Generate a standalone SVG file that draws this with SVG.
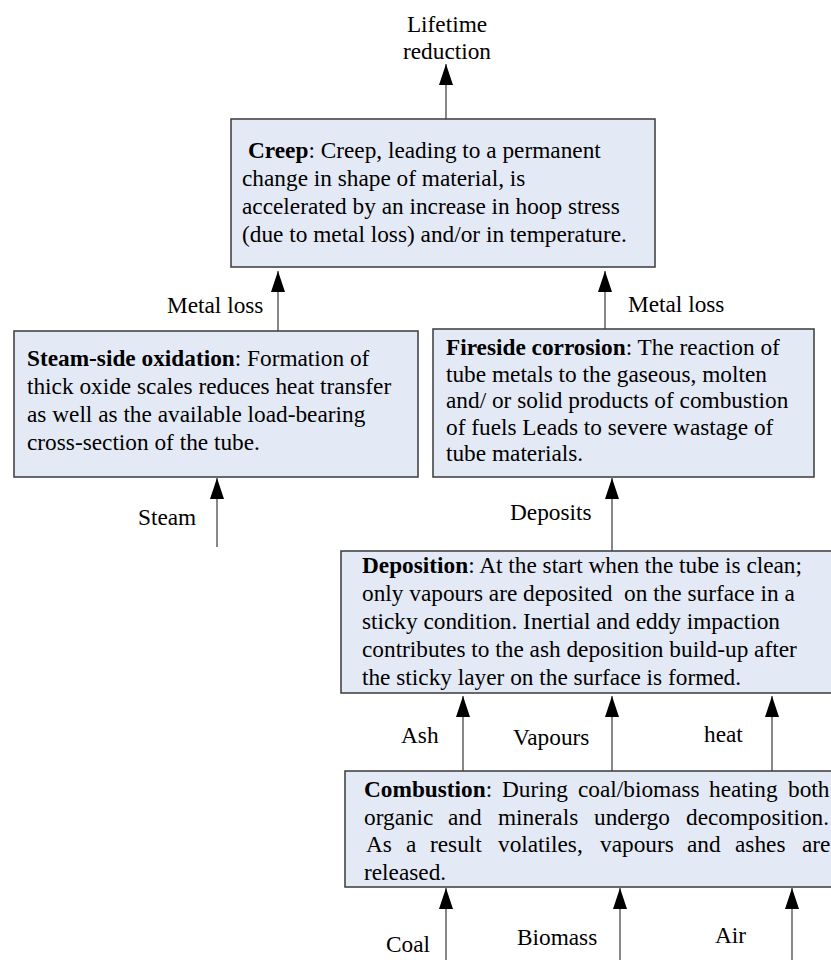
<svg xmlns="http://www.w3.org/2000/svg" width="831" height="960" viewBox="0 0 831 960">
<defs>
<style>
text{font-family:"Liberation Serif","Times New Roman","DejaVu Serif",serif;font-size:23.3px;fill:#000}
.b{font-weight:bold}
.box{fill:#e4eaf5;stroke:#3a3a3a;stroke-width:1.5}
.ln{stroke:#555;stroke-width:1.4;fill:none}
</style>
<marker id="ah" markerUnits="userSpaceOnUse" markerWidth="22" markerHeight="14" viewBox="0 0 22 14" refX="21" refY="7" orient="auto">
<path d="M21 7 L0 0 L0 14 Z" fill="#000"/>
</marker>
</defs>
<rect width="831" height="960" fill="#fff"/>

<g id="connectors">
<line class="ln" x1="446" y1="119" x2="446" y2="64" marker-end="url(#ah)"/>
<line class="ln" x1="278" y1="331" x2="278" y2="271" marker-end="url(#ah)"/>
<line class="ln" x1="605" y1="329" x2="605" y2="271" marker-end="url(#ah)"/>
<line class="ln" x1="217" y1="547" x2="217" y2="478" marker-end="url(#ah)"/>
<line class="ln" x1="612" y1="551" x2="612" y2="478" marker-end="url(#ah)"/>
<line class="ln" x1="463" y1="771" x2="463" y2="696" marker-end="url(#ah)"/>
<line class="ln" x1="612" y1="771" x2="612" y2="696" marker-end="url(#ah)"/>
<line class="ln" x1="772" y1="771" x2="772" y2="696" marker-end="url(#ah)"/>
<line class="ln" x1="446" y1="960" x2="446" y2="888" marker-end="url(#ah)"/>
<line class="ln" x1="620" y1="960" x2="620" y2="888" marker-end="url(#ah)"/>
<line class="ln" x1="792" y1="960" x2="792" y2="888" marker-end="url(#ah)"/>
<text x="447" y="32" text-anchor="middle">Lifetime</text>
<text x="447" y="59" text-anchor="middle">reduction</text>
<text x="167" y="313">Metal loss</text>
<text x="628" y="312">Metal loss</text>
<text x="138" y="525">Steam</text>
<text x="510" y="520">Deposits</text>
<text x="401" y="743">Ash</text>
<text x="513" y="745">Vapours</text>
<text x="704" y="742">heat</text>
<text x="386" y="952">Coal</text>
<text x="517" y="945">Biomass</text>
<text x="715" y="943">Air</text>
</g>

<g id="creep">
<rect class="box" x="231" y="119" width="424" height="148"/>
<text x="248" y="158"><tspan class="b">Creep</tspan>: Creep, leading to a permanent</text>
<text x="242" y="186">change in shape of material, is</text>
<text x="242" y="214">accelerated by an increase in hoop stress</text>
<text x="242" y="242">(due to metal loss) and/or in temperature.</text>
</g>

<g id="steam-side-oxidation">
<rect class="box" x="14" y="331" width="404" height="146"/>
<text x="27" y="366"><tspan class="b">Steam-side oxidation</tspan>: Formation of</text>
<text x="27" y="394">thick oxide scales reduces heat transfer</text>
<text x="27" y="422">as well as the available load-bearing</text>
<text x="27" y="450">cross-section of the tube.</text>
</g>

<g id="fireside-corrosion">
<rect class="box" x="433" y="329" width="381" height="148"/>
<text x="446" y="355"><tspan class="b">Fireside corrosion</tspan>: The reaction of</text>
<text x="446" y="381.5">tube metals to the gaseous, molten</text>
<text x="446" y="408">and/ or solid products of combustion</text>
<text x="446" y="434.5">of fuels Leads to severe wastage of</text>
<text x="446" y="461">tube materials.</text>
</g>

<g id="deposition">
<rect class="box" x="341" y="551" width="495" height="142"/>
<text x="362" y="573"><tspan class="b">Deposition</tspan>: At the start when the tube is clean;</text>
<text x="362" y="601" xml:space="preserve">only vapours are deposited  on the surface in a</text>
<text x="362" y="629">sticky condition. Inertial and eddy impaction</text>
<text x="362" y="657">contributes to the ash deposition build-up after</text>
<text x="362" y="685">the sticky layer on the surface is formed.</text>
</g>

<g id="combustion">
<rect class="box" x="345" y="771" width="491" height="116"/>
<text y="797"><tspan x="364" class="b">Combustion</tspan><tspan>:</tspan><tspan x="502">During</tspan><tspan x="578">coal/biomass</tspan><tspan x="709">heating</tspan><tspan x="788">both</tspan></text>
<text y="825"><tspan x="364">organic</tspan><tspan x="448">and</tspan><tspan x="498">minerals</tspan><tspan x="594">undergo</tspan><tspan x="686">decomposition.</tspan></text>
<text y="852"><tspan x="366">As</tspan><tspan x="406">a</tspan><tspan x="430">result</tspan><tspan x="498">volatiles,</tspan><tspan x="600">vapours</tspan><tspan x="687">and</tspan><tspan x="735">ashes</tspan><tspan x="802">are</tspan></text>
<text x="364" y="880">released.</text>
</g>
</svg>
